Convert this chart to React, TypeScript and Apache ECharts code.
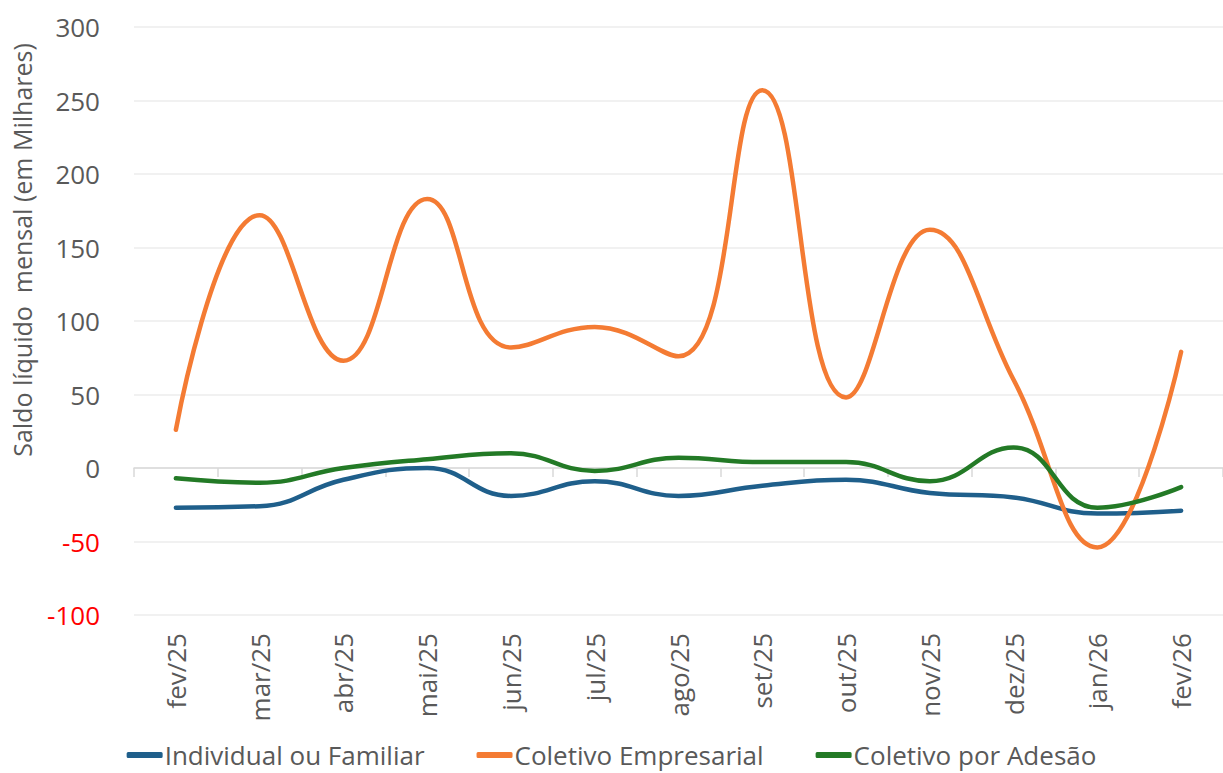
import React, { useEffect, useRef } from "react";
import * as echarts from "echarts";

const categories = ["fev/25", "mar/25", "abr/25", "mai/25", "jun/25", "jul/25", "ago/25", "set/25", "out/25", "nov/25", "dez/25", "jan/26", "fev/26"];
const individualFamiliar = [-27, -26, -8, 0, -19, -9, -19, -12, -8, -17, -20, -31, -29];
const coletivoEmpresarial = [26, 172, 73, 183, 82, 96, 76, 257, 48, 162, 60, -54, 79];
const coletivoAdesao = [-7, -10, 0, 6, 10, -2, 7, 4, 4, -9, 14, -27, -13];
const yTicks = [-100, -50, 0, 50, 100, 150, 200, 250, 300];

const FONT = "'Open Sans', sans-serif";

export default function App() {
  const ref = useRef<HTMLDivElement>(null);
  useEffect(() => {
    if (!ref.current) return;
    const chart = echarts.init(ref.current, null, { renderer: "svg" });
    const mk = (name: string, data: number[], color: string) => ({
      name,
      type: "line",
      data,
      smooth: 0.45,
      symbol: "none",
      xAxisIndex: 0,
      lineStyle: { color, width: 4.5, cap: "round" },
      itemStyle: { color },
    });
    chart.setOption({
      animation: false,
      grid: { left: 134, right: -12, top: 27, bottom: 158, containLabel: false },
      xAxis: [
        {
          type: "category",
          data: categories,
          position: "bottom",
          axisLine: { show: false, onZero: false },
          axisTick: { show: false },
          axisLabel: { rotate: 90, margin: 18, fontSize: 26, color: "#595959", fontFamily: FONT },
        },
        {
          type: "category",
          data: categories,
          position: "bottom",
          axisLine: { show: true, onZero: true, lineStyle: { color: "#d9d9d9", width: 1.5 } },
          axisTick: { show: true, length: 9, lineStyle: { color: "#d9d9d9", width: 1.5 } },
          axisLabel: { show: false },
        },
      ],
      yAxis: {
        type: "value",
        min: yTicks[0],
        max: yTicks[yTicks.length - 1],
        interval: 50,
        axisLine: { show: false },
        axisTick: { show: false },
        splitLine: { lineStyle: { color: "#ececec", width: 1.5 } },
        axisLabel: {
          margin: 34,
          fontSize: 26,
          fontFamily: FONT,
          color: (v: any) => (Number(v) < 0 ? "#ff0000" : "#595959"),
        },
      },
      legend: {
        bottom: 0,
        left: "center",
        itemWidth: 36,
        itemHeight: 6,
        itemGap: 52,
        icon: "roundRect",
        textStyle: { fontSize: 26, color: "#595959", fontFamily: FONT, padding: [0, 0, 0, -3] },
        data: ["Individual ou Familiar", "Coletivo Empresarial", "Coletivo por Adesão"],
      },
      graphic: [
        {
          type: "text",
          x: 22,
          y: 250,
          rotation: Math.PI / 2,
          style: {
            text: "Saldo líquido  mensal (em Milhares)",
            fontSize: 25,
            fontFamily: FONT,
            fill: "#595959",
            align: "center",
            verticalAlign: "middle",
          },
        },
      ],
      series: [
        mk("Individual ou Familiar", individualFamiliar, "#1F5F8B"),
        mk("Coletivo Empresarial", coletivoEmpresarial, "#F47B33"),
        mk("Coletivo por Adesão", coletivoAdesao, "#237A26"),
      ],
    });
    return () => chart.dispose();
  }, []);
  return <div ref={ref} style={{ width: 1223, height: 773, position: "absolute", left: 0, top: 0 }} />;
}
